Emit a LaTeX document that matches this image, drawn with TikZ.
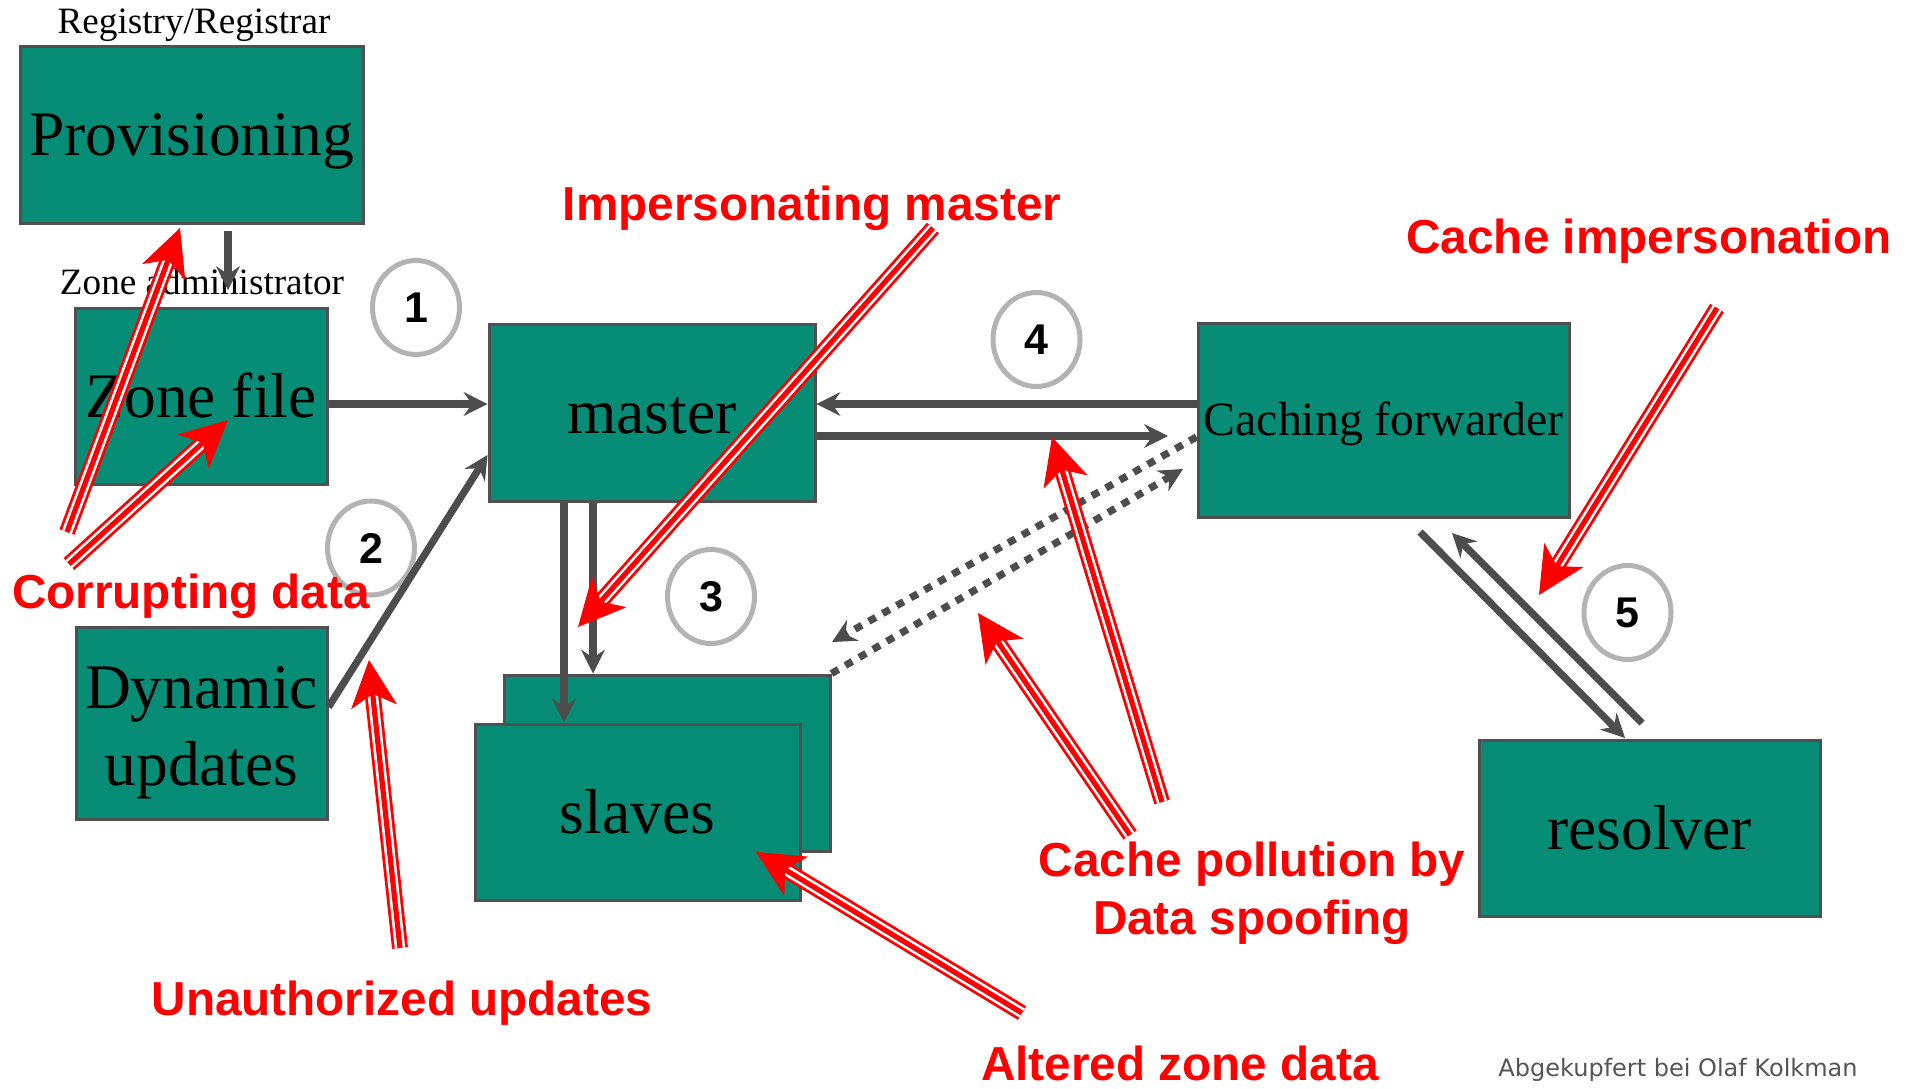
\documentclass[tikz,border=0pt]{standalone}
\usepackage{fontspec}
\setmainfont{Liberation Serif}
\newfontfamily\lsans{Liberation Sans}
\newfontfamily\dvsans{DejaVu Sans}
\usetikzlibrary{arrows.meta,calc,shapes.geometric}
\definecolor{tealbox}{HTML}{078C75}
\definecolor{bordc}{HTML}{505050}
\definecolor{connc}{HTML}{4D4D4D}
\definecolor{circc}{HTML}{B3B3B3}
\definecolor{creditc}{HTML}{555555}
\begin{document}
\begin{tikzpicture}[x=0.5pt,y=-0.5pt,
  boxbase/.style={draw=bordc, line width=1.5pt, fill=tealbox, inner sep=0pt},
  box/.style={boxbase, font=\fontsize{31.75}{38}\selectfont, text height=21pt, text depth=0pt},
  boxlabel/.style={inner sep=0pt, anchor=base, font=\fontsize{31.75}{38}\selectfont},
  toplab/.style={inner sep=0pt, anchor=base, font=\fontsize{18.6}{22}\selectfont},
  numc/.style={ellipse, draw=circc, line width=2.5pt, minimum width=43.5pt, minimum height=47pt, inner sep=0pt,
    font=\lsans\bfseries\fontsize{21.5}{24}\selectfont, text height=15.4pt, text depth=0pt},
  conn/.style={draw=connc, line width=3.6pt, -{Stealth[length=12pt,width=12pt,inset=4.2pt,line width=0.5pt]}},
  dotconn/.style={conn, dash pattern=on 4pt off 4pt},
  rsa/.style={draw=red, line width=8pt, shorten >=17pt},
  rsb/.style={draw=white, line width=5.2pt, shorten >=17pt},
  rsc/.style={draw=red, line width=2.6pt, shorten >=17pt},
  rhead/.style={draw=red, fill=red, line width=0.5pt, -{Stealth[length=23.5pt,width=23pt,inset=6.5pt,line width=0.5pt]}},
  rlab/.style={text=red, inner sep=0pt, font=\lsans\bfseries\fontsize{23.85}{29}\selectfont},
  credit/.style={text=creditc, inner sep=0pt, anchor=base, font=\dvsans\fontsize{12}{14}\selectfont}
]
\fill[white] (0,0) rectangle (1914,1088);
\useasboundingbox (0,0) rectangle (1914,1088);

% boxes
\node[box, minimum width=171.5pt, minimum height=88.5pt] (prov) at (191.5,134.5) {Provisioning};
\node[box, minimum width=126pt, minimum height=88pt] (zone) at (201,396) {Zone file};
\node[box, minimum width=163pt, minimum height=88.5pt] (master) at (652,412.5) {master};
\node[box, font=\fontsize{23.9}{28}\selectfont, text height=15.8pt, minimum width=185.5pt, minimum height=97pt] (cach) at (1383.5,420) {Caching forwarder};
\node[box, minimum width=170.5pt, minimum height=88pt] (res) at (1649.5,828) {resolver};
\node[boxbase, minimum width=125.5pt, minimum height=96pt] (dyn) at (201.5,723) {};
\node[boxlabel] (dyn1) at (201.5,708) {Dynamic};
\node[boxlabel] (dyn2) at (201.5,785) {updates};
\node[boxbase, minimum width=163pt, minimum height=88pt] (slb) at (667,763) {};
\node[box, minimum width=162.5pt, minimum height=88pt] (slf) at (637.5,812) {slaves};

% small labels
\node[toplab] (reglab) at (194,33) {Registry/Registrar};
\node[toplab] (zalab) at (202,294) {Zone administrator};

% numbered circles
\node[numc] (c1) at (416,307.5) {1};
\node[numc] (c2) at (371,548) {2};
\node[numc] (c3) at (711,596.5) {3};
\node[numc] (c4) at (1036.5,339.5) {4};
\node[numc] (c5) at (1627.5,612.5) {5};

% helper coordinates
\coordinate (v1) at (228,290);
\coordinate (h1) at (0,404);
\coordinate (d1) at (0,707);
\coordinate (d2) at (0,455);
\coordinate (h2) at (1168,436);
\coordinate (h3) at (0,437);
\coordinate (dt1) at (832,642);
\coordinate (dt2) at (1183,469);
\coordinate (x564) at (564,0);
\coordinate (x593) at (593,0);
\coordinate (q1) at (1420,532);
\coordinate (q2) at (1625,738);
\coordinate (q3) at (1642,723);
\coordinate (q4) at (1452,533);

% gray connectors
\draw[conn] ($(prov.south -| v1)+(0,6)$) -- (v1);
\draw[conn] (zone.east |- h1) -- (master.west |- h1);
\draw[conn] (dyn.east |- d1) -- (master.west |- d2);
\draw[conn] (cach.west |- h1) -- (master.east |- h1);
\draw[conn] (master.east |- h2) -- (h2);
\draw[dotconn] (cach.west |- h3) -- (dt1);
\draw[dotconn] (slb.north east) -- (dt2);
\draw[conn] (master.south -| x564) -- (slf.north -| x564);
\draw[conn] (master.south -| x593) -- (slb.north -| x593);
\draw[conn] (q1) -- (q2);
\draw[conn] (q3) -- (q4);

% red attack arrows
\coordinate (ra1) at (67,532);   \coordinate (rt1) at (180,228);
\coordinate (ra2) at (69,564);   \coordinate (rt2) at (228,420);
\coordinate (ra3) at (400,948);  \coordinate (rt3) at (369,660);
\coordinate (ra4) at (933,228);  \coordinate (rt4) at (578,627);
\coordinate (ra5) at (1162,802); \coordinate (rt5) at (1052,437);
\coordinate (ra6) at (1130,835); \coordinate (rt6) at (978,613);
\coordinate (ra7) at (1022,1013);\coordinate (rt7) at (756,852);
\coordinate (ra8) at (1717,308); \coordinate (rt8) at (1539,595);
\foreach \s/\t in {ra1/rt1,ra2/rt2,ra3/rt3,ra4/rt4,ra5/rt5,ra6/rt6,ra7/rt7,ra8/rt8}{
  \draw[rsa] (\s) -- (\t);
  \draw[rsb] (\s) -- (\t);
  \draw[rsc] (\s) -- (\t);
  \draw[rhead] ($(\t)!30pt!(\s)$) -- (\t);
}

% red labels
\node[rlab, anchor=base] (l1) at (812,220) {Impersonating master};
\node[rlab, anchor=base] (l2) at (1649,253) {Cache impersonation};
\node[rlab, anchor=base] (l3) at (191,608) {Corrupting data};
\node[rlab, anchor=base] (l4) at (402,1015) {Unauthorized updates};
\node[rlab, align=center, anchor=center] (l5) at (1252,893.5) {Cache pollution by\\Data spoofing};
\node[rlab, anchor=base] (l6) at (1180,1080) {Altered zone data};

\node[credit] (cr) at (1678,1076) {Abgekupfert bei Olaf Kolkman};
\end{tikzpicture}
\end{document}
